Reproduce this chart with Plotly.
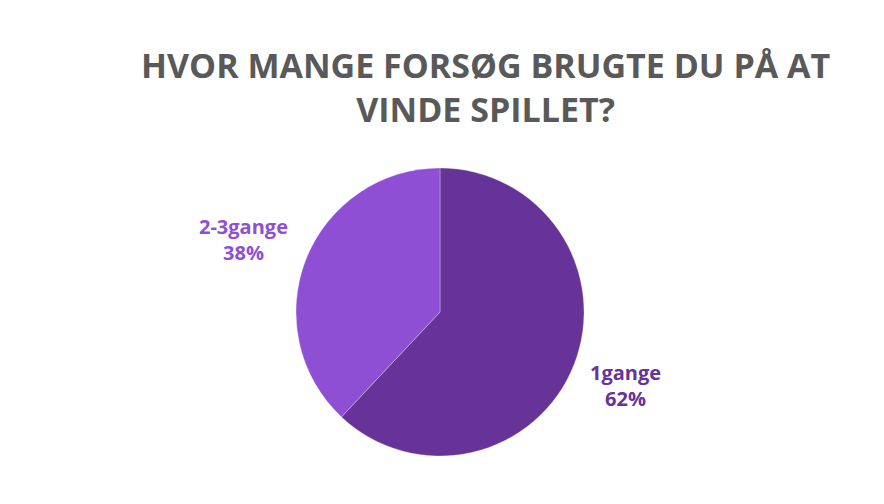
import plotly.graph_objects as go

labels = ["1gange", "2-3gange"]
values = [62, 38]
colors = ["#663399", "#8F4FD4"]
label_colors = ["#663399", "#8F4FD4"]
label_pos = [(625, 385), (243, 240)]  # pixel centers of the outside labels (page coords)

W, H = 884, 504
OFF = 8  # page body margin
cx, cy, r = 440 - OFF, 312 - OFF, 144


def px(x):
    return (x - OFF) / W


def py(y):
    return 1 - (y - OFF) / H


fig = go.Figure(go.Pie(
    labels=labels,
    values=values,
    sort=False,
    direction="clockwise",
    rotation=0,
    marker=dict(colors=colors, line=dict(color="rgba(255,255,255,0.35)", width=0.8)),
    textinfo="none",
    hoverinfo="label+percent",
    showlegend=False,
    domain=dict(x=[(cx - r) / W, (cx + r) / W], y=[1 - (cy + r) / H, 1 - (cy - r) / H]),
))

total = sum(values)
annotations = []
for lab, v, col, (lx, ly) in zip(labels, values, label_colors, label_pos):
    annotations.append(dict(
        text=f"{lab}<br>{round(100 * v / total)}%",
        x=px(lx), y=py(ly), xref="paper", yref="paper",
        showarrow=False, xanchor="center", yanchor="middle",
        font=dict(family="Open Sans", size=20, color=col, weight="bold"),
        align="center",
    ))

annotations.append(dict(
    text="HVOR MANGE FORSØG BRUGTE DU PÅ AT<br>VINDE SPILLET?",
    x=px(485), y=py(87), xref="paper", yref="paper",
    showarrow=False, xanchor="center", yanchor="middle", align="center",
    font=dict(family="Open Sans", size=34, color="#595959", weight="bold"),
))

fig.update_layout(
    width=W, height=H,
    margin=dict(l=0, r=0, t=0, b=0),
    paper_bgcolor="white", plot_bgcolor="white",
    annotations=annotations,
)

fig.write_html("out.html")
